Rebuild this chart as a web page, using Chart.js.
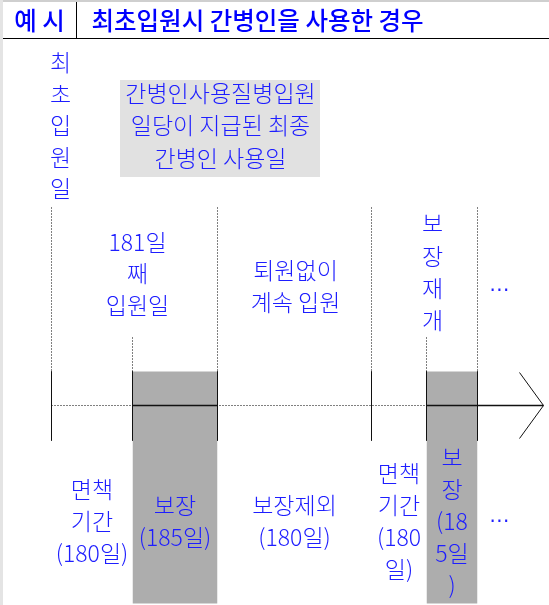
<!DOCTYPE html>
<html>
<head>
<meta charset="utf-8">
<script src="https://cdn.jsdelivr.net/npm/chart.js@4.4.1/dist/chart.umd.min.js"></script>
<style>
  html, body { margin: 0; padding: 0; background: #fff; }
  canvas { display: block; }
</style>
</head>
<body>
<canvas id="timeline" width="549" height="605"></canvas>
<script>
// ---- diagram data ----
const headerTag = '예 시';
const headerTitle = '최초입원시 간병인을 사용한 경우';
const marks = [51, 132, 217, 371, 426, 477];        // timeline boundaries (diagram units)
const coveredSpans = [[132, 217], [426, 477]];      // 보장 periods, shaded
const eventLabels = [
    ['최', '초', '입', '원', '일'],
    ['181일', '째', '입원일'],
    ['퇴원없이', '계속 입원'],
    ['보', '장', '재', '개']
];
const periodLabels = [
    ['면책', '기간', '(180일)'],
    ['보장', '(185일)'],
    ['보장제외', '(180일)'],
    ['면책', '기간', '(180', '일)'],
    ['보', '장', '(18', '5일', ')']
];
const noteLines = ['간병인사용질병입원', '일당이 지급된 최종', '간병인 사용일'];
const moreMark = '⋯';

// ---- layout ----
const LINE = '#111';
const TEXT = '#1e1eff';
const BODY_FONT = '300 23px "Noto Sans CJK KR", sans-serif';
const HEAD_FONT = '500 24.5px "Noto Sans CJK KR", sans-serif';
const axisY = 405, markTop = 371, markBottom = 440, shadeBottom = 603;
const arrowTip = 543;

function vline(x, y0, y1) {
    return [{x: x, y: y0}, {x: x, y: y1}, {x: x, y: null}];
}

const solidMarks = marks.flatMap(m => vline(m, markTop, markBottom));
// short guide where a covered period starts, tall guide elsewhere
const guides = marks.flatMap(m => vline(m, coveredSpans.some(s => s[0] === m) ? 337 : 207, markTop));
const solidRuns = coveredSpans.flatMap((s, i) => {
    const end = i === coveredSpans.length - 1 ? arrowTip : s[1];
    return [{x: s[0], y: axisY}, {x: end, y: axisY}, {x: end, y: null}];
});

const base = { pointRadius: 0, borderColor: LINE, fill: false, spanGaps: false, tension: 0 };

const datasets = [
    ...coveredSpans.map(([a, b]) => Object.assign({}, base, {
        data: [{x: a, y: markTop}, {x: b, y: markTop}],
        fill: {value: shadeBottom},
        backgroundColor: '#adadad',
        borderWidth: 0,
        order: 6
    })),
    Object.assign({}, base, {
        data: [{x: marks[0], y: axisY}, {x: arrowTip, y: axisY}],
        borderDash: [1, 2], borderWidth: 1, borderColor: '#000', order: 5
    }),
    Object.assign({}, base, { data: solidRuns, borderWidth: 1.5, order: 4 }),
    Object.assign({}, base, { data: guides, borderDash: [1, 2], borderWidth: 1, borderColor: '#000', order: 3 }),
    Object.assign({}, base, { data: solidMarks, borderWidth: 1, order: 2 }),
    Object.assign({}, base, {
        data: [{x: arrowTip - 24, y: axisY - 33}, {x: arrowTip, y: axisY}, {x: arrowTip - 24, y: axisY + 33}],
        borderWidth: 1, order: 1
    })
];

function drawLines(ctx, x, y, lines, cx, cy, step) {
    const top = cy - (lines.length - 1) * step / 2;
    lines.forEach((t, i) => ctx.fillText(t, x.getPixelForValue(cx), y.getPixelForValue(top + i * step)));
}

const decor = {
    id: 'decor',
    beforeDraw(chart) {
        const {ctx, scales: {x, y}} = chart;
        const px = v => x.getPixelForValue(v), py = v => y.getPixelForValue(v);
        ctx.save();
        ctx.fillStyle = '#fff';
        ctx.fillRect(0, 0, chart.width, chart.height);
        ctx.fillStyle = '#e4e4e4';
        ctx.fillRect(0, 0, 3, chart.height);
        ctx.fillStyle = '#cfcfcf';
        ctx.fillRect(3, 0, chart.width, 2);
        // header frame
        ctx.strokeStyle = '#000';
        ctx.lineWidth = 1;
        ctx.beginPath();
        ctx.moveTo(3, py(38)); ctx.lineTo(chart.width, py(38));
        ctx.moveTo(px(76), 2); ctx.lineTo(px(76), py(38));
        ctx.stroke();
        // note box
        ctx.fillStyle = '#e1e1e1';
        ctx.fillRect(px(120) - 0.5, py(80) - 0.5, px(320) - px(120), py(177) - py(80));
        ctx.restore();
    },
    afterDatasetsDraw(chart) {
        const {ctx, scales: {x, y}} = chart;
        ctx.save();
        ctx.textAlign = 'center';
        ctx.textBaseline = 'middle';
        // header
        ctx.fillStyle = '#0000ff';
        ctx.font = HEAD_FONT;
        ctx.fillText(headerTag, x.getPixelForValue(39), y.getPixelForValue(20));
        ctx.textAlign = 'left';
        ctx.fillText(headerTitle, x.getPixelForValue(91), y.getPixelForValue(20));
        // body
        ctx.textAlign = 'center';
        ctx.fillStyle = TEXT;
        ctx.font = BODY_FONT;
        drawLines(ctx, x, y, noteLines, 220, 125, 32.5);
        const eventPos = [[60, 125, 31.5], [137, 273, 31.5], [295, 286, 32], [432, 271.5, 32.3]];
        eventLabels.forEach((lines, i) => drawLines(ctx, x, y, lines, ...eventPos[i]));
        periodLabels.forEach((lines, i) => {
            const mid = (marks[i] + marks[i + 1]) / 2;
            drawLines(ctx, x, y, lines, mid, 521, 32);
        });
        ctx.font = '20px "DejaVu Sans", sans-serif';
        drawLines(ctx, x, y, [moreMark], 499, 290, 0);
        drawLines(ctx, x, y, [moreMark], 499, 521, 0);
        ctx.restore();
    }
};

new Chart(document.getElementById('timeline'), {
    type: 'line',
    data: { datasets: datasets },
    options: {
        responsive: false,
        animation: false,
        events: [],
        layout: { padding: 0 },
        plugins: { legend: { display: false }, tooltip: { enabled: false } },
        scales: {
            x: { type: 'linear', min: -0.5, max: 548.5, display: false },
            y: { type: 'linear', min: -0.5, max: 604.5, reverse: true, display: false }
        }
    },
    plugins: [decor]
});
</script>
</body>
</html>
